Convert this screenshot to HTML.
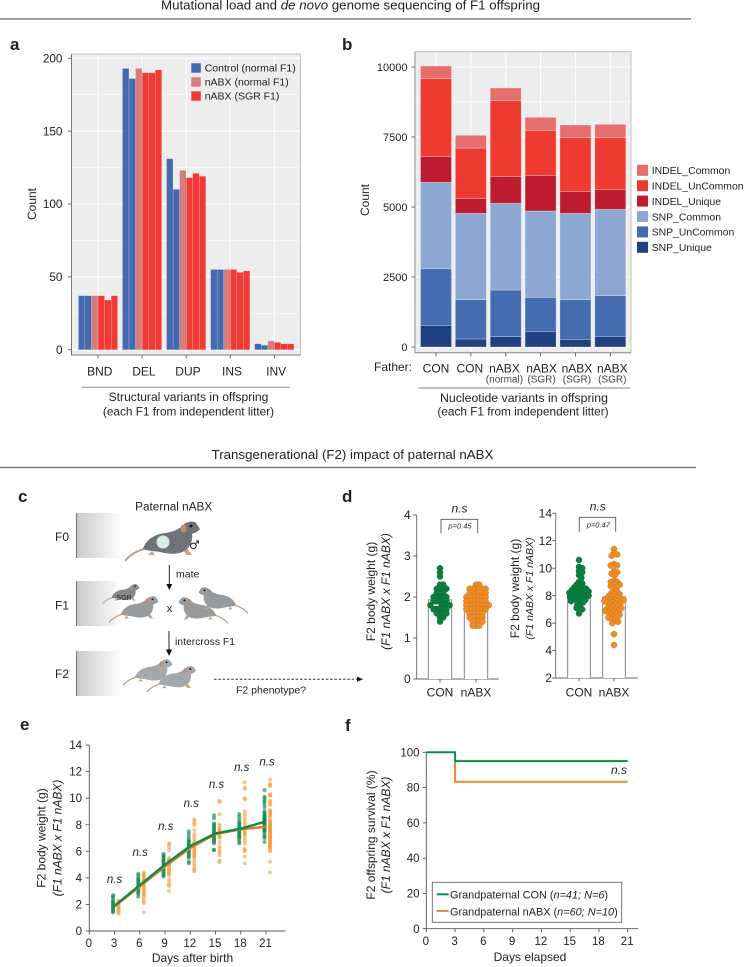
<!DOCTYPE html>
<html lang="en">
<head>
<meta charset="utf-8">
<title>Mutational load and de novo genome sequencing of F1 offspring</title>
<style>
html,body{margin:0;padding:0;background:#fff;}
svg{display:block;font-family:"Liberation Sans",sans-serif;fill:#222;}
text{font-size:12px;}
.ttl{font-size:13.3px;}
.let{font-size:17px;font-weight:bold;}
.it{font-style:italic;}
.mid{text-anchor:middle;}
</style>
</head>
<body>
<svg id="fig" width="744" height="967" viewBox="0 0 744 967" xmlns="http://www.w3.org/2000/svg">
<defs>
<linearGradient id="fade" x1="0" x2="1" y1="0" y2="0"><stop offset="0" stop-color="#c8c9ca"/><stop offset="1" stop-color="#fff"/></linearGradient>
<g id="mouse">
<path d="M125 561 C130 555 136 551 147 548" fill="none" stroke="#c4a284" stroke-width="2"/>
<path d="M152 551 L148 555 L155 555 Z M182 549 L187 555 L192 555 L186 547 Z" fill="#c4a284"/>
<path d="M143 549 C146 539 156 534 165 533 C172 532 178 530 182 526 C186 522 192 520 196 523 L200 529 C198 532 194 533 192 534 C193 541 190 548 184 551 C178 555 168 554 160 552 C154 551 148 551 143 549Z" fill="currentColor"/>
<ellipse cx="183.5" cy="528.5" rx="3" ry="4" fill="#b98f75"/>
<circle cx="191" cy="526" r="1.4" fill="#111"/>
</g>
</defs>

<text class="ttl mid" x="350.5" y="9.5">Mutational load and <tspan class="it">de novo</tspan> genome sequencing of F1 offspring</text>
<line x1="0" x2="691" y1="19" y2="19" stroke="#666" stroke-width="1.3"/>
<text class="ttl mid" x="352.5" y="459">Transgenerational (F2) impact of paternal nABX</text>
<line x1="0" x2="696" y1="467.5" y2="467.5" stroke="#666" stroke-width="1.3"/>

<text class="let" x="10" y="50">a</text>
<text class="let" x="342" y="50">b</text>
<text class="let" x="18" y="502">c</text>
<text class="let" x="342" y="502">d</text>
<text class="let" x="20" y="730">e</text>
<text class="let" x="345" y="731">f</text>

<g id="panelA">
<rect x="71.5" y="54" width="229" height="301" fill="#ededed" stroke="#b5b5b5" stroke-width=".8"/>
<path d="M71.5 54V355H300.5" fill="none" stroke="#7a7a7a"/>
<text class="mid" transform="translate(36 204) rotate(-90)">Count</text>
<line x1="82" x2="290" y1="387.3" y2="387.3" stroke="#8a8a8a"/>
<text class="mid" x="188.5" y="401" style="font-size:12.1px">Structural variants in offspring</text>
<text class="mid" x="188.5" y="415.5" style="font-size:11.8px">(each F1 from independent litter)</text>
</g>

<g id="panelB">
<rect x="415" y="51.7" width="216" height="301" fill="#ededed" stroke="#c4c4c4" stroke-width="1"/>
<path d="M415 51.7V352.7H631" fill="none" stroke="#8f8f8f"/>
<text class="mid" transform="translate(369 200) rotate(-90)">Count</text>
<text x="374" y="371">Father:</text>
<line x1="418.7" x2="630" y1="388" y2="388" stroke="#aaa" stroke-width="1.5"/>
<text class="mid" x="524" y="402" style="font-size:12.3px">Nucleotide variants in offspring</text>
<text class="mid" x="523" y="415.7" style="font-size:11.8px">(each F1 from independent litter)</text>
</g>

<g id="panelC">
<rect x="76.5" y="513" width="46" height="45" fill="url(#fade)"/>
<rect x="76.5" y="581" width="46" height="45" fill="url(#fade)"/>
<rect x="76.5" y="651" width="46" height="45" fill="url(#fade)"/>
<path d="M76.5 513V558M76.5 581V626M76.5 651V696" stroke="#777" fill="none"/>
<text x="55" y="541">F0</text>
<text x="55" y="609.5">F1</text>
<text x="55" y="678">F2</text>
<text class="mid" x="173.7" y="510.7" style="font-size:11.75px">Paternal nABX</text>
<use href="#mouse" style="color:#6f7377"/>
<circle cx="163" cy="542" r="6.5" fill="#d9ece4"/>
<text x="189" y="549" style="font-size:12px;font-family:'DejaVu Sans',sans-serif">♂</text>
<line x1="169.3" x2="169.3" y1="565" y2="585" stroke="#222"/>
<path d="M166.3 584L172.3 584L169.3 590Z" fill="#111"/>
<text x="176" y="577.3" style="font-size:10.5px">mate</text>
<use href="#mouse" transform="translate(102.7 604) scale(.49) translate(-125 -562)" style="color:#85888b"/>
<text class="mid" x="124" y="600" style="font-size:7px">SGR</text>
<use href="#mouse" transform="translate(109 623) scale(.66) translate(-125 -562)" style="color:#989b9d"/>
<text class="mid" x="169.5" y="612" style="font-size:11px">x</text>
<use href="#mouse" transform="translate(228 624) scale(-.66 .66) translate(-125 -562)" style="color:#989b9d"/>
<use href="#mouse" transform="translate(248 614) scale(-.66 .66) translate(-125 -562)" style="color:#989b9d"/>
<line x1="169" x2="169" y1="631" y2="650" stroke="#222"/>
<path d="M166 649.5L172 649.5L169 656Z" fill="#111"/>
<text x="175" y="645" style="font-size:10.4px">intercross F1</text>
<use href="#mouse" transform="translate(123 686) scale(.66) translate(-125 -562)" style="color:#a5a8aa"/>
<use href="#mouse" transform="translate(146.7 692.7) scale(.66) translate(-125 -562)" style="color:#a5a8aa"/>
<line x1="214" x2="358" y1="679.3" y2="679.3" stroke="#333" stroke-dasharray="2.5 1.8"/>
<path d="M357 676.8L363 679.3L357 681.8Z" fill="#111"/>
<text x="236" y="693.5" style="font-size:10.5px">F2 phenotype?</text>
</g>

<g id="panelD1">
<text class="mid" transform="translate(375 591.5) rotate(-90)">F2 body weight (g)</text>
<text class="mid it" transform="translate(390 591.5) rotate(-90)">(F1 nABX x F1 nABX)</text>
<text class="mid it" x="459.5" y="512.7">n.s</text>
<path d="M441 533.3V519.3H477.7V533.3" fill="none" stroke="#555" stroke-width=".9"/>
<text class="mid it" x="460" y="528.7" style="font-size:7.5px">p=0.45</text>
</g>
<g id="panelD2">
<text class="mid" transform="translate(519 588.5) rotate(-90)">F2 body weight (g)</text>
<text class="mid it" transform="translate(533 588.5) rotate(-90)" style="font-size:10.5px">(F1 nABX x F1 nABX)</text>
<text class="mid it" x="597.7" y="510.7">n.s</text>
<path d="M579.3 531.7V517.3H615.7V531.7" fill="none" stroke="#555" stroke-width=".9"/>
<text class="mid it" x="598.3" y="527.3" style="font-size:7.5px">p=0.47</text>
</g>

<g id="panelE">
<text class="mid" transform="translate(45.5 838) rotate(-90)">F2 body weight (g)</text>
<text class="mid it" transform="translate(61.5 838) rotate(-90)">(F1 nABX x F1 nABX)</text>
<text class="mid" x="192.5" y="962">Days after birth</text>
</g>

<g id="panelF">
<text class="mid" transform="translate(375 835) rotate(-90)">F2 offspring survival (%)</text>
<text class="mid it" transform="translate(390 835) rotate(-90)">(F1 nABX x F1 nABX)</text>
<text class="mid" x="530" y="961">Days elapsed</text>
<text class="it" x="627" y="774" text-anchor="end">n.s</text>
<rect x="432.3" y="882.3" width="189.4" height="40" fill="#fff" stroke="#666" stroke-width=".9"/>
<line x1="436.7" x2="448.7" y1="894.3" y2="894.3" stroke="#0c8b4a" stroke-width="2"/>
<text x="450" y="898.3" style="font-size:10.9px">Grandpaternal CON (<tspan class="it">n=41; N=6</tspan>)</text>
<line x1="436.7" x2="448.7" y1="911" y2="911" stroke="#e88a3a" stroke-width="2"/>
<text x="450" y="915.3" style="font-size:10.9px">Grandpaternal nABX (<tspan class="it">n=60; N=10</tspan>)</text>
</g>
</svg>

<script>
// Panel a data
const svCategories = ['BND', 'DEL', 'DUP', 'INS', 'INV'];
const svLitter1 = [37, 193, 131, 55, 4];
const svLitter2 = [37, 186, 110, 55, 3];
const svLitter3 = [37, 193, 123, 55, 6];
const svLitter4 = [37, 190, 118, 55, 5];
const svLitter5 = [34, 190, 121, 53, 4];
const svLitter6 = [37, 192, 119, 54, 4];
const svLegend = ['Control (normal F1)', 'nABX (normal F1)', 'nABX (SGR F1)'];
const svYTicks = [0, 50, 100, 150, 200];

// Panel b data
const nvFather = ['CON', 'CON', 'nABX', 'nABX', 'nABX', 'nABX'];
const nvFatherSub = ['', '', '(normal)', '(SGR)', '(SGR)', '(SGR)'];
const snpUnique = [774, 286, 369, 560, 274, 381];
const snpUncommon = [2024, 1404, 1667, 1214, 1416, 1452];
const snpCommon = [3083, 3084, 3095, 3083, 3084, 3084];
const indelUnique = [929, 536, 964, 1274, 774, 714];
const indelUncommon = [2773, 1797, 2703, 1607, 1928, 1845];
const indelCommon = [453, 453, 452, 464, 453, 476];
const nvYTicks = [0, 2500, 5000, 7500, 10000];

// Panel d data
const d1Ticks = [0, 1, 2, 3, 4];
const d2Ticks = [2, 4, 6, 8, 10, 12, 14];
const dGroups = ['CON', 'nABX'];
const d1Means = [1.93, 1.83];
const d2Means = [8.3, 7.9];
const d1Con = [2.7,2.6,2.5,2.3,2.3,2.2,2.2,2.2,2.2,2.1,2.1,2.1,2.0,2.0,2.0,2.0,2.0,1.9,1.9,1.9,1.9,1.9,1.8,1.8,1.8,1.8,1.8,1.8,1.8,1.7,1.7,1.7,1.7,1.7,1.6,1.6,1.6,1.6,1.5,1.5,1.4];
const d1Abx = [2.3,2.3,2.2,2.2,2.2,2.2,2.2,2.2,2.1,2.1,2.1,2.1,2.1,2.1,2.0,2.0,2.0,2.0,2.0,2.0,2.0,1.9,1.9,1.9,1.9,1.9,1.9,1.9,1.8,1.8,1.8,1.8,1.8,1.8,1.8,1.8,1.7,1.7,1.7,1.7,1.7,1.7,1.7,1.6,1.6,1.6,1.6,1.6,1.5,1.5,1.5,1.5,1.5,1.4,1.4,1.4,1.4,1.3,1.3,1.3];
const d2Con = [10.6,10.1,10.0,9.8,9.7,9.5,9.3,9.0,8.9,8.8,8.7,8.6,8.6,8.5,8.5,8.4,8.4,8.3,8.3,8.3,8.2,8.2,8.1,8.1,8.0,8.0,8.0,7.9,7.9,7.8,7.8,7.7,7.7,7.6,7.6,7.5,7.4,7.2,7.1,7.0,6.7];
const d2Abx = [11.4,11.1,11.0,10.9,10.3,10.2,10.2,9.8,9.7,9.6,9.5,9.1,9.0,9.0,8.8,8.8,8.7,8.6,8.4,8.3,8.2,8.1,8.1,8.0,7.9,7.9,7.8,7.8,7.7,7.7,7.7,7.6,7.6,7.5,7.5,7.4,7.4,7.3,7.2,7.2,7.1,7.1,7.0,7.0,6.9,6.9,6.8,6.8,6.7,6.6,6.6,6.5,6.4,6.4,6.3,6.2,6.1,6.0,5.2,4.4];

// Panel e data
const eDays = [3, 6, 9, 12, 15, 18, 21];
const eYTicks = [0, 2, 4, 6, 8, 10, 12, 14];
const eXTicks = [0, 3, 6, 9, 12, 15, 18, 21];
const eConMean = [1.9, 3.45, 5.0, 6.4, 7.35, 7.7, 8.25];
const eAbxMean = [1.85, 3.35, 4.85, 6.25, 7.3, 7.65, 7.85];
const eNsHeight = [3.6, 5.65, 7.6, 9.35, 10.75, 12.05, 12.45];
const eCon3 = [2.7,2.6,2.5,2.3,2.2,2.1,2.0,1.9,1.8,1.7,1.6,1.5,1.4];
const eCon6 = [4.3,4.2,4.0,3.9,3.8,3.7,3.6,3.5,3.4,3.3,3.2,3.1,3.0,2.9,2.8,2.6];
const eCon9 = [5.8,5.7,5.6,5.5,5.4,5.3,5.2,5.1,5.0,4.9,4.8,4.7,4.6,4.5,4.4,4.3,4.2,4.1];
const eCon12 = [7.5,7.3,7.1,6.9,6.8,6.7,6.6,6.5,6.4,6.3,6.2,6.1,6.0,5.9,5.8,5.7,5.6,5.5,5.2,5.1];
const eCon15 = [8.7,8.5,8.1,8.0,7.9,7.8,7.7,7.6,7.5,7.4,7.3,7.2,7.1,7.0,6.9,6.8,6.7,6.6,6.1,6.1];
const eCon18 = [8.8,8.6,8.4,8.2,8.1,8.0,7.9,7.8,7.7,7.6,7.5,7.4,7.3,7.2,7.1,7.0,6.9,6.7,6.6];
const eAbx3 = [2.3,2.2,2.1,2.0,1.9,1.8,1.7,1.6,1.5,1.4,1.3];
const eAbx6 = [4.4,4.3,4.2,4.1,4.0,3.9,3.8,3.7,3.6,3.5,3.4,3.3,3.2,3.1,3.0,2.9,2.8,2.7,2.6,2.4,2.2,2.1,1.4];
const eAbx9 = [6.6,6.5,6.3,6.1,5.5,5.4,5.3,5.2,5.1,5.0,4.9,4.8,4.7,4.6,4.5,4.4,4.3,4.2,3.9,3.7,3.5,3.4,3.0];
const eAbx12 = [8.4,8.3,8.1,8.0,7.6,7.3,7.1,6.9,6.7,6.6,6.5,6.4,6.3,6.2,6.1,6.0,5.9,5.8,5.7,5.6,5.5,5.3,5.1,4.9,4.7,4.6,4.5];
const eAbx15 = [9.8,9.7,8.8,8.0,7.9,7.7,7.6,7.5,7.4,7.3,7.2,7.1,7.0,6.7,6.4,6.2,6.0,5.9,5.7,5.3,5.2];
const eAbx18 = [11.2,10.8,10.7,10.0,9.9,9.0,8.8,8.6,8.4,8.2,8.0,7.8,7.6,7.5,7.4,7.3,7.2,7.0,6.8,6.6,6.2,6.1,6.0,5.6,5.1];

// Panel f data
const fYTicks = [0, 20, 40, 60, 80, 100];
const fXTicks = [0, 3, 6, 9, 12, 15, 18, 21];
const fConDays = [0, 3, 3, 21];
const fConSurvival = [100, 100, 95, 95];
const fAbxDays = [3, 3, 21];
const fAbxSurvival = [95, 83.3, 83.3];

const NS = 'http://www.w3.org/2000/svg';
function mk(parent, tag, attrs, content) {
  const el = document.createElementNS(NS, tag);
  for (const k in attrs) el.setAttribute(k, attrs[k]);
  if (content !== undefined) el.textContent = content;
  parent.appendChild(el);
  return el;
}
function linear(d0, d1, r0, r1) { return v => r0 + (v - d0) * (r1 - r0) / (d1 - d0); }

function yAxisTicks(g, ticks, y, axisX, labelX, fontSize) {
  ticks.forEach(t => {
    const tick = mk(g, 'line', { x1: axisX - 3.5, x2: axisX, y1: y(t), y2: y(t), stroke: '#555', 'stroke-width': .9 });
    
    
    const lab = mk(g, 'text', { x: labelX, y: y(t) + 4.1, 'text-anchor': 'end', style: 'font-size:' + fontSize + 'px' }, String(t));
    
    
  });
}
function xAxisTicks(g, ticks, x, axisY, labelY, fontSize) {
  ticks.forEach(t => {
    const tick = mk(g, 'line', { x1: x(t), x2: x(t), y1: axisY, y2: axisY + 3.5, stroke: '#555', 'stroke-width': .9 });
    
    
    const lab = mk(g, 'text', { x: x(t) - .5, y: labelY, 'text-anchor': 'middle', style: 'font-size:' + fontSize + 'px' }, String(t));
    
    
  });
}
function gridH(g, ticks, y, x0, x1) {
  ticks.forEach((t, i) => {
    const gl = mk(g, 'line', { x1: x0, x2: x1, y1: y(t), y2: y(t), stroke: '#fff', 'stroke-width': 1.1 });
    
    
    if (i < ticks.length - 1) {
      const m = mk(g, 'line', { x1: x0, x2: x1, y1: y((t + ticks[i + 1]) / 2), y2: y((t + ticks[i + 1]) / 2), stroke: '#fff', 'stroke-width': .5 });
      
      
    }
  });
}

/* ---------- Panel a ---------- */
(function () {
  const g = document.getElementById('panelA');
  const y = linear(0, 200, 349.7, 58.3);
  const gx = i => 98 + i * 44.08;
  gridH(g, svYTicks, y, 72, 300);
  svCategories.forEach((c, i) => {
    const gl = mk(g, 'line', { x1: gx(i), x2: gx(i), y1: 54.5, y2: 354.5, stroke: '#fff', 'stroke-width': 1 });
    
    
  });
  const series = [svLitter1, svLitter2, svLitter3, svLitter4, svLitter5, svLitter6];
  const colors = ['#4569ae', '#4569ae', '#d67c7c', '#f03a35', '#f03a35', '#f03a35'];
  const bw = 6.55;
  series.forEach((vals, s) => {
    vals.forEach((v, i) => {
      const x = gx(i) - 3 * bw + s * bw;
      const bar = mk(g, 'rect', { x: x + .15, y: y(v), width: bw - .3, height: y(0) - y(v), fill: colors[s] });
      
      
    });
  });
  yAxisTicks(g, svYTicks, y, 71.5, 62.5, 11.8);
  svCategories.forEach((c, i) => {
    const tick = mk(g, 'line', { x1: gx(i), x2: gx(i), y1: 355, y2: 358.5, stroke: '#555', 'stroke-width': .9 });
    
    
    const lab = mk(g, 'text', { x: gx(i) + 1.8, y: 375.3, 'text-anchor': 'middle' }, c);
    
    
  });
  const legColors = ['#4569ae', '#d67c7c', '#f03a35'];
  svLegend.forEach((t, i) => {
    const cy = 68 + i * 14;
    const sw = mk(g, 'rect', { x: 191.3, y: cy - 4.7, width: 9.5, height: 9.4, fill: legColors[i] });
    
    
    const lab = mk(g, 'text', { x: 204.7, y: cy + 3.6, style: 'font-size:10.5px' }, t);
    
    
  });
})();

/* ---------- Panel b ---------- */
(function () {
  const g = document.getElementById('panelB');
  const y = linear(0, 10000, 347, 67);
  const bx = i => 436 + i * 34.86;
  gridH(g, nvYTicks, y, 415.5, 630.5);
  nvFather.forEach((c, i) => {
    const gl = mk(g, 'line', { x1: bx(i), x2: bx(i), y1: 52, y2: 352, stroke: '#fff', 'stroke-width': 1 });
    
    
  });
  const stack = [snpUnique, snpUncommon, snpCommon, indelUnique, indelUncommon, indelCommon];
  const names = ['SNP_Unique', 'SNP_UnCommon', 'SNP_Common', 'INDEL_Unique', 'INDEL_UnCommon', 'INDEL_Common'];
  const colors = ['#20417f', '#456bb0', '#8ba7d2', '#bd1c2e', '#ee3b32', '#e66e6c'];
  nvFather.forEach((f, i) => {
    let acc = 0;
    stack.forEach((vals, s) => {
      const top = acc + vals[i];
      const seg = mk(g, 'rect', { x: bx(i) - 15.5, y: y(top), width: 31, height: y(acc) - y(top), fill: colors[s], stroke: 'rgba(255,255,255,.4)', 'stroke-width': .7 });
      
      
      acc = top;
    });
  });
  yAxisTicks(g, nvYTicks, y, 415, 407.5, 11);
  const labelNudge = [0, -1, -1.3, 1, 1.5, 2];
  nvFather.forEach((f, i) => {
    const tick = mk(g, 'line', { x1: bx(i), x2: bx(i), y1: 352.7, y2: 356.5, stroke: '#555', 'stroke-width': .9 });
    
    
    const lab = mk(g, 'text', { x: bx(i) + labelNudge[i], y: 372.7, 'text-anchor': 'middle' }, f);
    
    
    if (nvFatherSub[i]) {
      const sub = mk(g, 'text', { x: bx(i) + labelNudge[i], y: 382.7, 'text-anchor': 'middle', style: 'font-size:10px', fill: '#444' }, nvFatherSub[i]);
      
      
    }
  });
  names.slice().reverse().forEach((n, i) => {
    const cy = 170.3 + i * 15.4;
    const sw = mk(g, 'rect', { x: 637, y: cy - 5.5, width: 11, height: 11, fill: colors[5 - i] });
    
    
    const lab = mk(g, 'text', { x: 651.7, y: cy + 3.8, style: 'font-size:10.4px' }, n);
    
    
  });
})();

/* ---------- Panel d ---------- */
function swarm(values, y, cx, minDist) {
  const placed = [];
  values.slice().sort((a, b) => b - a).forEach(v => {
    const py = y(v);
    for (let k = 0; k < 80; k++) {
      const off = (k % 2 ? 1 : -1) * Math.ceil(k / 2) * .8;
      const px = cx + off;
      if (placed.every(p => Math.hypot(p.x - px, p.y - py) >= minDist)) {
        placed.push({ x: px, y: py });
        break;
      }
    }
  });
  return placed;
}
function drawSwarmPanel(g, ticks, y, axisX, axisEnd, labelRight, centres, barHalf, means, conVals, abxVals, minDist) {
  mk(g, 'path', { d: 'M' + axisX + ' ' + y(ticks[ticks.length - 1]) + 'V' + y(ticks[0]) + 'H' + axisEnd, fill: 'none', stroke: '#666', 'stroke-width': .9 });
  yAxisTicks(g, ticks, y, axisX, labelRight, 12);
  const fills = ['#0a7f3f', '#f28b24'];
  const strokes = ['#0c6a38', '#c77a26'];
  [conVals, abxVals].forEach((vals, gi) => {
    const cx = centres[gi];
    const bar = mk(g, 'path', { d: 'M' + (cx - barHalf) + ' ' + y(ticks[0]) + 'V' + y(means[gi]) + 'H' + (cx + barHalf) + 'V' + y(ticks[0]), fill: '#fff', stroke: '#999', 'stroke-width': 1.2 });
    
    
    swarm(vals, y, cx, minDist).forEach(p => {
      const dot = mk(g, 'circle', { cx: p.x, cy: p.y, r: 3, fill: fills[gi], stroke: strokes[gi], 'stroke-width': .5 });
      
      
    });
    const tick = mk(g, 'line', { x1: cx, x2: cx, y1: y(ticks[0]), y2: y(ticks[0]) + 3.5, stroke: '#555', 'stroke-width': .9 });
    
    
    const lab = mk(g, 'text', { x: cx, y: 696.5, 'text-anchor': 'middle' }, dGroups[gi]);
    
    
  });
}
const d1y = linear(0, 4, 679, 515);
const d2y = linear(2, 14, 678, 513.3);
drawSwarmPanel(document.getElementById('panelD1'), d1Ticks, d1y, 416.7, 498.7, 410.7, [440, 476], 11.6, d1Means, d1Con, d1Abx, 2.8);
drawSwarmPanel(document.getElementById('panelD2'), d2Ticks, d2y, 555.7, 637.7, 552, [579, 614], 11.4, d2Means, d2Con, d2Abx, 3.4);
(function () {
  const mark = mk(document.getElementById('panelD1'), 'rect', { x: 433.5, y: d1y(1.8) - .8, width: 5, height: 1.6, fill: '#fff' });
  
  
})();

/* ---------- Panel e ---------- */
(function () {
  const g = document.getElementById('panelE');
  const x = linear(0, 21, 89.3, 266);
  const y = linear(0, 14, 931, 745);
  mk(g, 'path', { d: 'M89.3 745V931H285.7', fill: 'none', stroke: '#555', 'stroke-width': .9 });
  yAxisTicks(g, eYTicks, y, 89.3, 82, 11.5);
  xAxisTicks(g, eXTicks, x, 931, 947, 11.5);
  const conSets = [eCon3, eCon6, eCon9, eCon12, eCon15, eCon18, d2Con];
  const abxSets = [eAbx3, eAbx6, eAbx9, eAbx12, eAbx15, eAbx18, d2Abx];
  eDays.forEach((d, i) => {
    abxSets[i].forEach(v => {
      const dot = mk(g, 'circle', { cx: x(d) + 4, cy: y(v), r: 2, fill: '#f59a3c', 'fill-opacity': .55 });
      
      
    });
    conSets[i].forEach(v => {
      const dot = mk(g, 'circle', { cx: x(d) - 1.5, cy: y(v), r: 2, fill: '#0f8a4a', 'fill-opacity': .62 });
      
      
    });
    const ns = mk(g, 'text', { x: x(d) + (i < 3 ? i * .4 : 1), y: y(eNsHeight[i]), 'text-anchor': 'middle', 'font-style': 'italic', style: 'font-size:11.5px' }, 'n.s');
    
    
  });
  const abxLine = mk(g, 'polyline', { points: eDays.map((d, i) => x(d) + ',' + y(eAbxMean[i])).join(' '), fill: 'none', stroke: '#e8792c', 'stroke-width': 2.4 });
  
  
  const conLine = mk(g, 'polyline', { points: eDays.map((d, i) => x(d) + ',' + y(eConMean[i])).join(' '), fill: 'none', stroke: '#0c8b4a', 'stroke-width': 2.4 });
  
  
})();

/* ---------- Panel f ---------- */
(function () {
  const g = document.getElementById('panelF');
  const x = linear(0, 21, 426.3, 627.7);
  const y = linear(0, 100, 928.7, 752.3);
  const axis = mk(g, 'path', { d: 'M426.3 752.3V928.7H638.3', fill: 'none', stroke: '#555', 'stroke-width': .9 });
  g.insertBefore(axis, g.firstChild);
  
  
  yAxisTicks(g, fYTicks, y, 426.3, 419.5, 11.5);
  xAxisTicks(g, fXTicks, x, 928.7, 945, 11.5);
  const abx = mk(g, 'polyline', { points: fAbxDays.map((d, i) => x(d) + ',' + y(fAbxSurvival[i])).join(' '), fill: 'none', stroke: '#e88a3a', 'stroke-width': 2 });
  
  
  const con = mk(g, 'polyline', { points: fConDays.map((d, i) => x(d) + ',' + y(fConSurvival[i])).join(' '), fill: 'none', stroke: '#0c8b4a', 'stroke-width': 2 });
  
  
})();
</script>
</body>
</html>
